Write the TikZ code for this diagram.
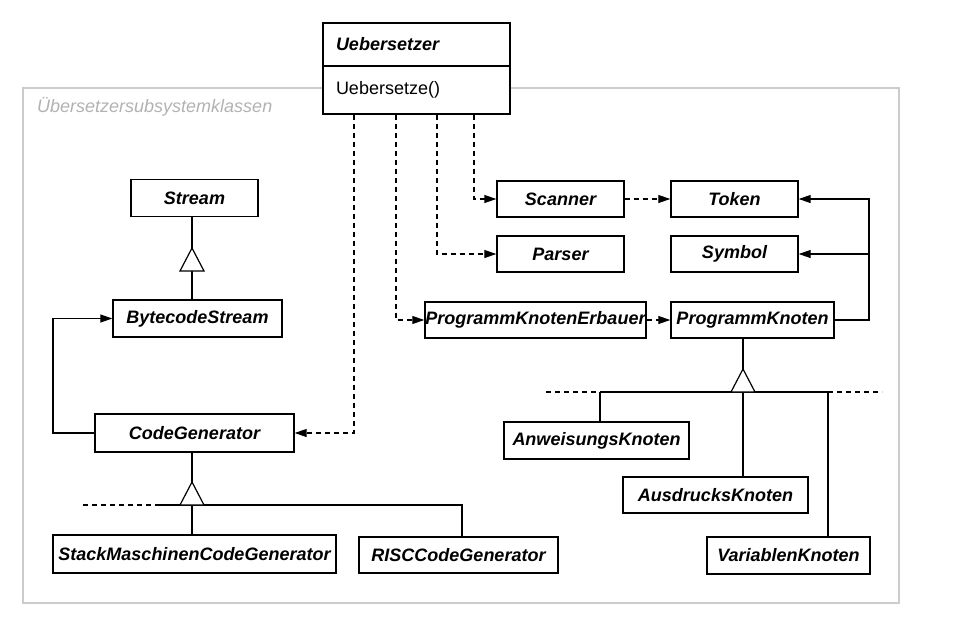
\documentclass[tikz,border=0pt]{standalone}
\usepackage{fontspec}
\setmainfont{Liberation Sans}
\usetikzlibrary{arrows.meta}
\begin{document}
\begin{tikzpicture}[x=1pt,y=-1pt,
  cls/.style={draw, line width=1.4pt, fill=white, font=\fontsize{18}{20}\selectfont\bfseries\itshape, inner sep=1pt, minimum height=36pt},
  conn/.style={line width=1.2pt},
  dashconn/.style={line width=1.2pt, dash pattern=on 5pt off 4pt},
  dep/.style={line width=1.2pt, dash pattern=on 5pt off 4pt, -{Triangle[length=12pt,width=8pt]}},
  assoc/.style={line width=1.2pt, -{Triangle[length=12pt,width=8pt]}},
  inh/.style={line width=1.2pt, fill=white},
  pkgframe/.style={draw=gray!40, line width=1.2pt},
]
\useasboundingbox (0,0) rectangle (954,632);
% package frame
\draw[pkgframe] (23,88) rectangle (899,603);
\node[anchor=west, text=gray!60, font=\fontsize{18}{20}\selectfont\itshape, inner sep=0pt] (pkg) at (37,107) {Übersetzersubsystemklassen};

% Uebersetzer
\node[cls, minimum width=187pt, minimum height=43pt, text width=161pt, inner xsep=13pt, align=left] (uebT) at (416.5,44.5) {Uebersetzer};
\node[cls, font=\fontsize{18}{20}\selectfont, minimum width=187pt, minimum height=48pt, text width=161pt, inner xsep=13pt, align=left] (uebM) at (416.5,90) {Uebersetze()};

% classes
\node[cls, minimum width=127pt, minimum height=37pt] (stream) at (194.5,198) {Stream};
\node[cls, minimum width=169pt, minimum height=37pt] (bs) at (197.5,318.5) {BytecodeStream};
\node[cls, minimum width=199pt, minimum height=38pt] (cg) at (194.5,433) {CodeGenerator};
\node[cls, minimum width=283pt, minimum height=38pt] (stack) at (194.5,554) {StackMaschinenCodeGenerator};
\node[cls, minimum width=199pt] (risc) at (458.5,555) {RISCCodeGenerator};
\node[cls, minimum width=127pt] (scanner) at (560.5,199) {Scanner};
\node[cls, minimum width=127pt] (token) at (734.5,199) {Token};
\node[cls, minimum width=127pt] (parser) at (560.5,254) {Parser};
\node[cls, minimum width=127pt] (symbol) at (734.5,254) {Symbol};
\node[cls, minimum width=221pt, inner xsep=0.5pt] (pke) at (535.5,320) {ProgrammKnotenErbauer};
\node[cls, minimum width=163pt] (pk) at (752.5,320) {ProgrammKnoten};
\node[cls, minimum width=185pt, minimum height=37pt] (anw) at (596.5,440.5) {AnweisungsKnoten};
\node[cls, minimum width=185pt] (aus) at (715.5,495) {AusdrucksKnoten};
\node[cls, minimum width=163pt, minimum height=37pt] (var) at (788.5,555.5) {VariablenKnoten};

% dependencies from Uebersetzer
\coordinate (d1) at (354,0);
\coordinate (d2) at (396,0);
\coordinate (d3) at (437,0);
\coordinate (d4) at (474,0);
\draw[dep] (uebM.south -| d1) |- (cg.east);
\draw[dep] (uebM.south -| d2) |- (pke.west);
\draw[dep] (uebM.south -| d3) |- (parser.west);
\draw[dep] (uebM.south -| d4) |- (scanner.west);
\draw[dep] (scanner.east) -- (token.west);
\draw[dep] (pke.east) -- (pk.west);

% ProgrammKnoten associations
\coordinate (r) at (869,0);
\draw[assoc] (pk.east) -- (pk.east -| r) |- (token.east);
\draw[assoc] (symbol.east -| r) -- (symbol.east);

% CodeGenerator -> BytecodeStream
\coordinate (cl) at (53,0);
\draw[assoc] (cg.west) -- (cg.west -| cl) |- (bs.west);

% Stream hierarchy
\coordinate (t1) at (192,248);
\coordinate (t1b) at (192,271);
\draw[conn] (stream.south -| t1) -- (t1);
\draw[conn] (t1b) -- (bs.north -| t1b);
\draw[inh] (t1) -- (180,271) -- (204,271) -- cycle;

% CodeGenerator hierarchy
\coordinate (t2) at (192,482);
\coordinate (t2b) at (192,505);
\coordinate (h2d) at (83,505);
\coordinate (h2l) at (157,505);
\coordinate (h2r) at (462,505);
\draw[conn] (cg.south -| t2) -- (t2);
\draw[dashconn] (h2d) -- (h2l);
\draw[conn] (h2l) -- (h2r) -- (risc.north -| h2r);
\draw[conn] (t2b) -- (stack.north -| t2b);
\draw[inh] (t2) -- (180,505) -- (204,505) -- cycle;

% ProgrammKnoten hierarchy
\coordinate (t3) at (743,369);
\coordinate (t3b) at (743,392);
\coordinate (h3a) at (546,392);
\coordinate (h3b) at (600,392);
\coordinate (h3c) at (828,392);
\coordinate (h3d) at (882,392);
\draw[conn] (pk.south -| t3) -- (t3);
\draw[dashconn] (h3a) -- (h3b);
\draw[conn] (h3b) -- (h3c);
\draw[dashconn] (h3c) -- (h3d);
\draw[conn] (h3b) -- (anw.north -| h3b);
\draw[conn] (t3b) -- (aus.north -| t3b);
\draw[conn] (h3c) -- (var.north -| h3c);
\draw[inh] (t3) -- (731,392) -- (755,392) -- cycle;
\end{tikzpicture}
\end{document}
